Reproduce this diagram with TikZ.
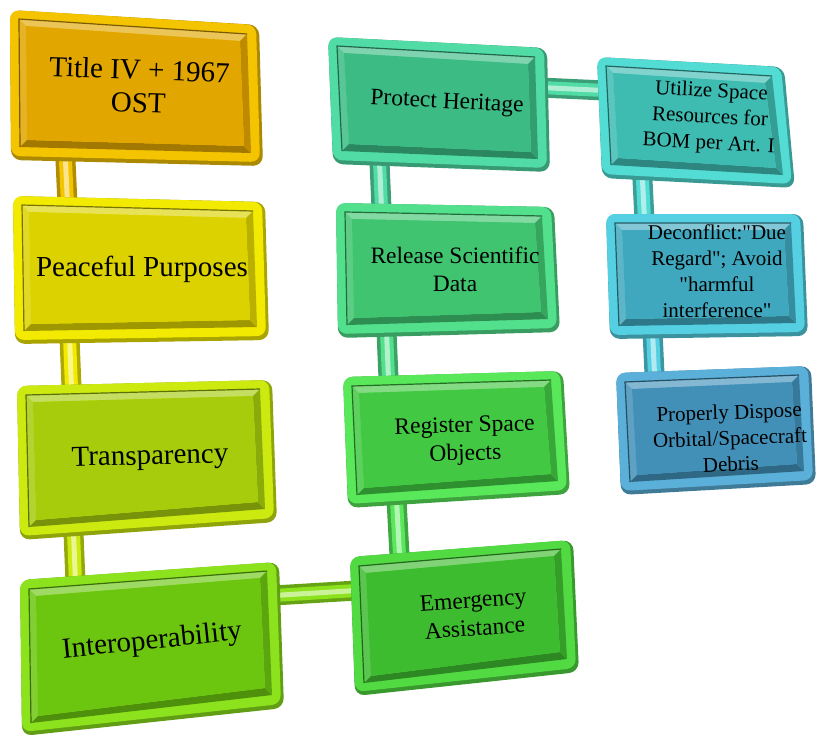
\documentclass[tikz,border=0pt]{standalone}
\usepackage{fontspec}
\setmainfont{Liberation Serif}[Ligatures=TeXOff]
\usetikzlibrary{calc}

% face / rim colours of the plaques
\definecolor{Aface}{HTML}{E2A600}\definecolor{Arim}{HTML}{F4C400}
\definecolor{Bface}{HTML}{DCD200}\definecolor{Brim}{HTML}{F2EA00}
\definecolor{Cface}{HTML}{A6CC0C}\definecolor{Crim}{HTML}{CCEA10}
\definecolor{Dface}{HTML}{6CC610}\definecolor{Drim}{HTML}{8CE21C}
\definecolor{Eface}{HTML}{3CBC84}\definecolor{Erim}{HTML}{50DCA4}
\definecolor{Fface}{HTML}{40C470}\definecolor{Frim}{HTML}{52E08C}
\definecolor{Gface}{HTML}{42C842}\definecolor{Grim}{HTML}{58E85A}
\definecolor{Hface}{HTML}{3EBC30}\definecolor{Hrim}{HTML}{52DA42}
\definecolor{Iface}{HTML}{3EBCB2}\definecolor{Irim}{HTML}{52DCD4}
\definecolor{Jface}{HTML}{40A8BE}\definecolor{Jrim}{HTML}{54D0E2}
\definecolor{Kface}{HTML}{4290B8}\definecolor{Krim}{HTML}{5AB0D8}

% a bevelled plaque given by its four outer corners (tl, tr, br, bl)
\newcommand\plaque[6]{%
  \coordinate (#1a) at (#2); \coordinate (#1b) at (#3);
  \coordinate (#1c) at (#4); \coordinate (#1d) at (#5);
  \fill[#6rim!70!black, rounded corners=10pt]
    (#1a) -- (#1b) -- (#1c) -- (#1d) -- cycle;
  \fill[#6rim, rounded corners=9pt]
    (#1a) -- ($(#1b)+(-3,0)$) -- ($(#1c)+(-3,-4)$) -- ($(#1d)+(0,-4)$) -- cycle;
  \coordinate (#1p) at ($(#1a)+(9,9)$);   \coordinate (#1q) at ($(#1b)+(-12,9)$);
  \coordinate (#1r) at ($(#1c)+(-12,-13)$); \coordinate (#1s) at ($(#1d)+(9,-13)$);
  \coordinate (#1P) at ($(#1p)+(7,7)$);   \coordinate (#1Q) at ($(#1q)+(-7,7)$);
  \coordinate (#1R) at ($(#1r)+(-7,-7)$); \coordinate (#1S) at ($(#1s)+(7,-7)$);
  \fill[#6face!65!white] (#1p) -- (#1q) -- (#1Q) -- (#1P) -- cycle;
  \fill[#6face!85!white] (#1p) -- (#1P) -- (#1S) -- (#1s) -- cycle;
  \fill[#6face!72!black] (#1s) -- (#1S) -- (#1R) -- (#1r) -- cycle;
  \fill[#6face!84!black] (#1q) -- (#1r) -- (#1R) -- (#1Q) -- cycle;
  \draw[#6face!55!black, line width=1.2pt] (#1s) -- (#1p) -- (#1q);
  \fill[#6face] (#1P) -- (#1Q) -- (#1R) -- (#1S) -- cycle;
}

% a round tube between two named points
\newcommand\tube[3]{%
  \draw[line width=20pt, #3!72!black] (#1) -- (#2);
  \draw[line width=13pt, #3] (#1) -- (#2);
  \draw[line width=5pt, #3!45!white] (#1) -- (#2);
}

\tikzset{
  lbl/.style={align=center, text=black, inner sep=0pt},
  big/.style={lbl, font=\fontsize{29}{33}\selectfont},
  mid/.style={lbl, font=\fontsize{23.5}{28}\selectfont},
  small/.style={lbl, font=\fontsize{21}{26}\selectfont},
}

\begin{document}
\begin{tikzpicture}[x=1pt, y=-1pt]
\useasboundingbox (0,0) rectangle (825,740);
\fill[white] (0,0) rectangle (825,740);

% tube end points
\coordinate (u1) at (65,150);  \coordinate (v1) at (68,215);
\coordinate (u2) at (69,325);  \coordinate (v2) at (72,400);
\coordinate (u3) at (73,520);  \coordinate (v3) at (76,595);
\coordinate (u4) at (379,150); \coordinate (v4) at (382,220);
\coordinate (u5) at (386,320); \coordinate (v5) at (389,390);
\coordinate (u6) at (396,490); \coordinate (v6) at (400,565);
\coordinate (u7) at (642,170); \coordinate (v7) at (645,230);
\coordinate (u8) at (652,320); \coordinate (v8) at (655,385);
\coordinate (h1) at (530,87);  \coordinate (k1) at (615,91);
\coordinate (h2) at (265,596); \coordinate (k2) at (365,590);

\tube{u1}{v1}{Arim}
\tube{u2}{v2}{Brim}
\tube{u3}{v3}{Crim}
\tube{u4}{v4}{Erim}
\tube{u5}{v5}{Frim}
\tube{u6}{v6}{Grim}
\tube{u7}{v7}{Irim}
\tube{u8}{v8}{Jrim}
\tube{h1}{k1}{Erim}
\tube{h2}{k2}{Drim}

% left column
\plaque{pa}{10,10}{259,25}{263,166}{11,160}{A}
\plaque{pb}{13,196}{265,202}{269,340}{15,344}{B}
\plaque{pc}{17,386}{272,380}{277,522}{20,540}{C}
\plaque{pd}{20,580}{279,562}{284,708}{22,736}{D}
% middle column
\plaque{pe}{328,37}{547,48}{550,172}{333,164}{E}
\plaque{pf}{336,203}{554,207}{560,332}{338,338}{F}
\plaque{pg}{343,377}{563,371}{570,494}{348,508}{G}
\plaque{ph}{350,557}{573,540}{579,672}{355,696}{H}
% right column
\plaque{pi}{597,57}{784,67}{795,188}{602,178}{I}
\plaque{pj}{606,214}{803,214}{808,336}{610,339}{J}
\plaque{pk}{616,373}{811,366}{816,484}{621,495}{K}

% labels
\node[big, rotate=-2]   (na) at (139,86)  {Title IV + 1967\\OST};
\node[big]              (nb) at (142,269) {Peaceful Purposes};
\node[big, rotate=1.5]  (nc) at (150,458) {Transparency};
\node[big, rotate=6]    (nd) at (152,642) {Interoperability};
\node[mid, rotate=-3]   (ne) at (447,103) {Protect Heritage};
\node[mid]              (nf) at (455,269) {Release Scientific\\Data};
\node[mid, rotate=1.5]  (ng) at (465,441) {Register Space\\Objects};
\node[mid, rotate=4]    (nh) at (474,614) {Emergency\\Assistance};
\node[small, rotate=-3] (ni) at (710,118) {Utilize Space\\Resources for\\BOM per Art. I};
\node[small]            (nj) at (717,271) {Deconflict:"Due\\Regard"; Avoid\\"harmful\\interference"};
\node[small, rotate=2]  (nk) at (730,438) {Properly Dispose\\Orbital/Spacecraft\\Debris};
\end{tikzpicture}
\end{document}
